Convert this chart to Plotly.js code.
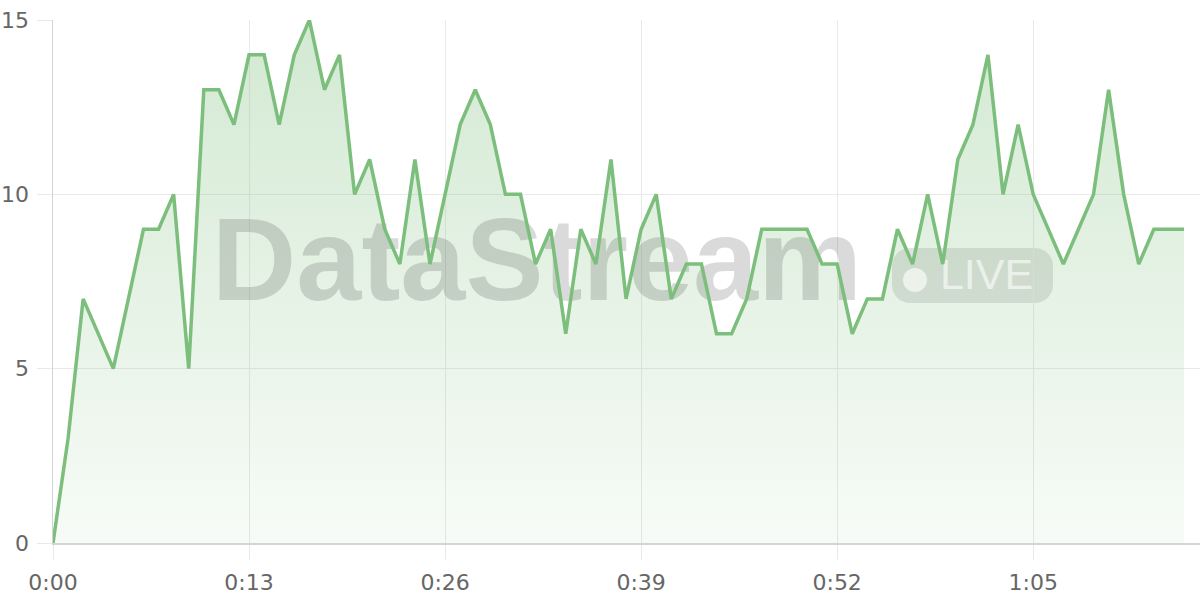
<!DOCTYPE html>
<html>
<head>
<meta charset="utf-8">
<script src="https://cdn.plot.ly/plotly-3.0.1.min.js"></script>
<style>
  html, body { margin: 0; padding: 0; background: #ffffff; }
  #chart { width: 1200px; height: 600px; }
</style>
</head>
<body>
<div id="chart"></div>
<script>
// ---- data ----
const seconds = [0,1,2,3,4,5,6,7,8,9,10,11,12,13,14,15,16,17,18,19,20,21,22,23,24,25,26,27,28,29,30,31,32,33,34,35,36,37,38,39,40,41,42,43,44,45,46,47,48,49,50,51,52,53,54,55,56,57,58,59,60,61,62,63,64,65,66,67,68,69,70,71,72,73,74,75];
const values  = [0,3,7,6,5,7,9,9,10,5,13,13,12,14,14,12,14,15,13,14,10,11,9,8,11,8,10,12,13,12,10,10,8,9,6,9,8,11,7,9,10,7,8,8,6,6,7,9,9,9,9,8,8,6,7,7,9,8,10,8,11,12,14,10,12,10,9,8,9,10,13,10,8,9,9,9];
const tickSeconds = [0,13,26,39,52,65];
const tickLabels  = ['0:00','0:13','0:26','0:39','0:52','1:05'];
const yTicks = [0,5,10,15];
const watermarkMain = 'DataStream';
const watermarkBadge = 'LIVE';

// ---- layout geometry ----
const W = 1200, H = 600;
const M = {l: 53, r: 0, t: 20, b: 57};
const xRange = [0, 76.06];
const yRange = [0, 15];
const plotW = W - M.l - M.r, plotH = H - M.t - M.b;
// convert page pixels to axis units (for watermark placement only)
const toX = px => xRange[0] + (px - M.l) / plotW * (xRange[1] - xRange[0]);
const toY = py => yRange[0] + (H - M.b - py) / plotH * (yRange[1] - yRange[0]);

const green = 'rgb(124,190,124)';
const gridColor = '#e9e9e9';
const lineColor = '#d4d4d4';
const tickFont = {family: '"DejaVu Sans", sans-serif', size: 22, color: '#666666'};

const traces = [
  {
    x: seconds, y: values, type: 'scatter', mode: 'lines',
    line: {width: 0, color: green},
    fill: 'tozeroy',
    fillgradient: {
      type: 'vertical',
      colorscale: [[0, 'rgba(124,190,124,0.06)'], [1, 'rgba(124,190,124,0.34)']]
    },
    hoverinfo: 'skip', showlegend: false
  },
  {
    x: [toX(537)], y: [toY(271)], type: 'scatter', mode: 'text',
    text: [watermarkMain], textposition: 'middle center',
    textfont: {family: '"Liberation Sans", Arial, sans-serif', size: 117, color: 'rgba(50,50,50,0.18)', weight: 'bold'},
    hoverinfo: 'skip', showlegend: false
  },
  {
    x: [toX(915)], y: [toY(280)], type: 'scatter', mode: 'markers',
    marker: {size: 24, color: 'rgba(255,255,255,0.62)', line: {width: 0}},
    hoverinfo: 'skip', showlegend: false
  },
  {
    x: [toX(986.5)], y: [toY(278.5)], type: 'scatter', mode: 'text',
    text: [watermarkBadge], textposition: 'middle center',
    textfont: {family: '"Liberation Sans", Arial, sans-serif', size: 43, color: 'rgba(255,255,255,0.62)'},
    hoverinfo: 'skip', showlegend: false
  },
  {
    x: seconds, y: values, type: 'scatter', mode: 'lines',
    line: {width: 3.5, color: green, shape: 'linear'},
    hoverinfo: 'skip', showlegend: false
  }
];

const r = 18, hw = 80.5, hh = 27.5, k = 0.5523 * r;
const pillPath = [
  `M ${-hw + r},${-hh}`,
  `L ${hw - r},${-hh}`,
  `C ${hw - r + k},${-hh} ${hw},${-hh + r - k} ${hw},${-hh + r}`,
  `L ${hw},${hh - r}`,
  `C ${hw},${hh - r + k} ${hw - r + k},${hh} ${hw - r},${hh}`,
  `L ${-hw + r},${hh}`,
  `C ${-hw + r - k},${hh} ${-hw},${hh - r + k} ${-hw},${hh - r}`,
  `L ${-hw},${-hh + r}`,
  `C ${-hw},${-hh + r - k} ${-hw + r - k},${-hh} ${-hw + r},${-hh}`,
  'Z'
].join(' ');

const layout = {
  width: W, height: H,
  margin: M,
  paper_bgcolor: '#ffffff', plot_bgcolor: '#ffffff',
  showlegend: false,
  hovermode: false,
  xaxis: {
    range: xRange, fixedrange: true,
    tickmode: 'array', tickvals: tickSeconds, ticktext: tickLabels,
    showgrid: true, gridcolor: gridColor, gridwidth: 1,
    zeroline: false,
    showline: true, linecolor: lineColor, linewidth: 1.5,
    ticks: 'outside', ticklen: 15, tickcolor: gridColor, tickwidth: 1,
    tickfont: tickFont, ticklabelstandoff: 4
  },
  yaxis: {
    range: yRange, fixedrange: true,
    tickmode: 'array', tickvals: yTicks,
    showgrid: true, gridcolor: gridColor, gridwidth: 1,
    zeroline: false,
    showline: true, linecolor: lineColor, linewidth: 1.5,
    ticks: 'outside', ticklen: 15, tickcolor: gridColor, tickwidth: 1,
    tickfont: tickFont, ticklabelstandoff: 3
  },
  shapes: [
    {
      type: 'path', layer: 'below',
      xref: 'x', yref: 'y',
      xsizemode: 'pixel', ysizemode: 'pixel',
      xanchor: toX(972.5), yanchor: toY(275.5),
      path: pillPath,
      fillcolor: 'rgba(60,60,60,0.15)',
      line: {width: 0}
    }
  ]
};

Plotly.newPlot('chart', traces, layout, {displayModeBar: false, staticPlot: true});
</script>
</body>
</html>
